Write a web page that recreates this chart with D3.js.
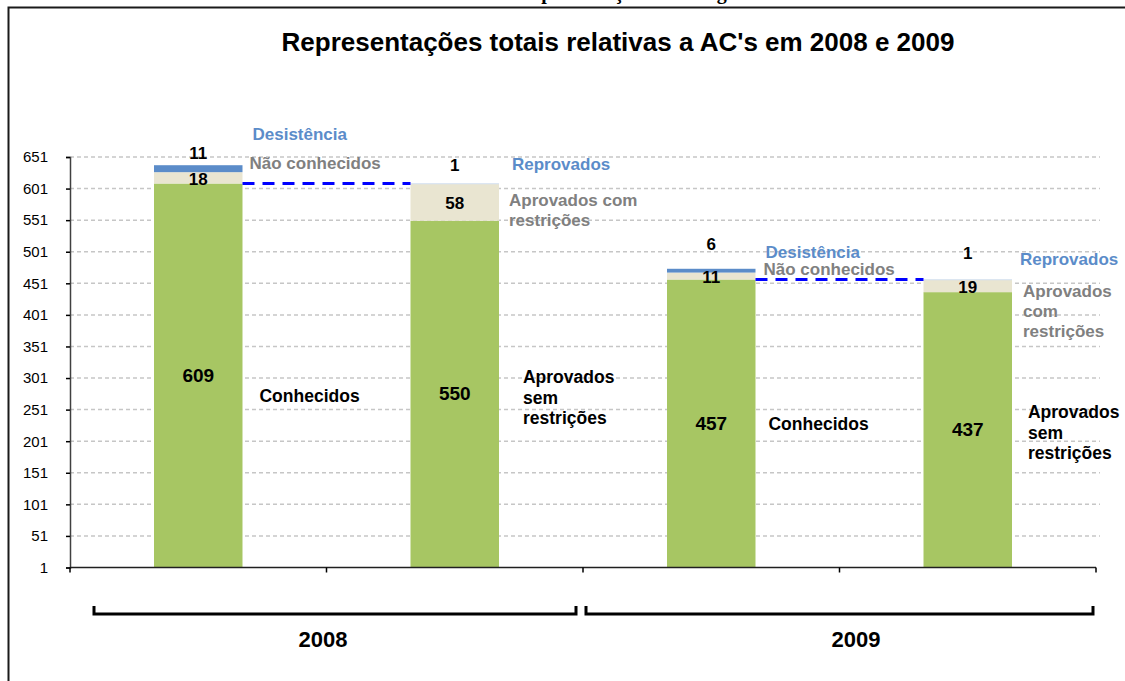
<!DOCTYPE html>
<html>
<head>
<meta charset="utf-8">
<script src="https://cdn.jsdelivr.net/npm/d3@7"></script>
<style>
  body { margin: 0; background: #fff; }
  svg { display: block; font-family: "Liberation Sans", Arial, sans-serif; }
</style>
</head>
<body>
<div id="chart"></div>
<script>
// chart values
const years = ["2008", "2009"];
const bars = ["2008 AC", "2008 Ap", "2009 AC", "2009 Ap"];
const baseValues = [609, 550, 457, 437];
const midValues = [18, 58, 11, 19];
const topValues = [11, 1, 6, 1];
const baseNames = [["Conhecidos"], ["Aprovados", "sem", "restrições"], ["Conhecidos"], ["Aprovados", "sem", "restrições"]];
const midNames = [["Não conhecidos"], ["Aprovados com", "restrições"], ["Não conhecidos"], ["Aprovados", "com", "restrições"]];
const topNames = ["Desistência", "Reprovados", "Desistência", "Reprovados"];
const yTicks = [1, 51, 101, 151, 201, 251, 301, 351, 401, 451, 501, 551, 601, 651];
const titleText = "Representações totais relativas a AC's em 2008 e 2009";

// label placement, per bar (pixels)
const layout = [
  { topDy: -6, topNameDx: 10, topNameY: 140, midNameDx: 7, midNameY: 169, baseNameDx: 17, baseNameY: 402 },
  { topDy: -13, topNameDx: 13, topNameY: 170, midNameDx: 10, midNameY: 206, baseNameDx: 24, baseNameY: 383 },
  { topDy: -19, topNameDx: 10, topNameY: 258, midNameDx: 8, midNameY: 275, baseNameDx: 13, baseNameY: 430 },
  { topDy: -21, topNameDx: 8, topNameY: 265, midNameDx: 11, midNameY: 297, baseNameDx: 16, baseNameY: 418 }
];

const width = 1125, height = 681;
const plotLeft = 70, plotRight = 1096, plotTop = 157, plotBottom = 567.5;

const svg = d3.select("#chart").append("svg")
  .attr("width", width)
  .attr("height", height);

// cut-off heading above the frame (only its lower edge shows)
svg.append("text")
  .attr("x", 518)
  .attr("y", -1)
  .style("font-family", "'Liberation Serif', 'Times New Roman', serif")
  .style("font-weight", "bold")
  .style("font-size", "20px")
  .text("Representação da área geral");

// frame
svg.append("path")
  .attr("d", `M8.5,${height} V7.5 H${width}`)
  .attr("fill", "none")
  .attr("stroke", "#1a1a1a")
  .attr("stroke-width", 2);

svg.append("text")
  .attr("x", 618)
  .attr("y", 51)
  .attr("text-anchor", "middle")
  .style("font-weight", "bold")
  .style("font-size", "26px")
  .text(titleText);

const y = d3.scaleLinear().domain([1, 651]).range([plotBottom, plotTop]).clamp(true);
const x = d3.scaleBand().domain(bars).range([plotLeft, plotRight]).padding(0);
const barW = x.bandwidth() * 0.345;
const cx = d => x(d) + x.bandwidth() / 2;

// grid
svg.append("g")
  .selectAll("line")
  .data(yTicks.filter(t => t > 1))
  .join("line")
  .attr("x1", plotLeft)
  .attr("x2", 1100)
  .attr("y1", d => y(d))
  .attr("y2", d => y(d))
  .attr("stroke", "#c6c6c6")
  .attr("stroke-width", 1.5)
  .attr("stroke-dasharray", "4,3");

// stacked segments
const colors = ["#a7c663", "#e9e5d1", null];
const topColors = ["#5b8cc9", "#b7cbe3", "#5b8cc9", "#b7cbe3"];
const segs = [];
bars.forEach((b, i) => {
  const v = [baseValues[i], midValues[i], topValues[i]];
  let acc = 0;
  v.forEach((val, k) => {
    segs.push({ bar: b, i, k, y0: acc, y1: acc + val });
    acc += val;
  });
});

svg.append("g")
  .selectAll("rect")
  .data(segs)
  .join("rect")
  .attr("x", d => cx(d.bar) - barW / 2)
  .attr("width", barW)
  .attr("y", d => y(d.y1))
  .attr("height", d => y(d.y0) - y(d.y1))
  .attr("fill", d => d.k === 2 ? topColors[d.i] : colors[d.k]);

// connectors between the known total and the next bar total
[0, 2].forEach(i => {
  const v = baseValues[i];
  svg.append("line")
    .attr("x1", cx(bars[i]) + barW / 2)
    .attr("x2", cx(bars[i + 1]) - barW / 2)
    .attr("y1", y(v))
    .attr("y2", y(v))
    .attr("stroke", "#0000ff")
    .attr("stroke-width", 3)
    .attr("stroke-dasharray", "12,8");
});

// y axis
const yAxis = svg.append("g")
  .attr("transform", `translate(${plotLeft},0)`)
  .call(d3.axisLeft(y).tickValues(yTicks).tickSize(4).tickPadding(18).tickFormat(d3.format("d")));
yAxis.select(".domain").attr("stroke", "#404040").attr("stroke-width", 1.5);
yAxis.selectAll(".tick line").attr("stroke", "#000").attr("stroke-width", 1.5);
yAxis.selectAll(".tick text")
  .style("font-size", "15px")
  .style("font-family", "'Liberation Sans', Arial, sans-serif")
  .attr("fill", "#000");

// x axis
svg.append("line")
  .attr("x1", plotLeft).attr("x2", plotRight)
  .attr("y1", plotBottom).attr("y2", plotBottom)
  .attr("stroke", "#202020").attr("stroke-width", 1.5);
svg.append("g")
  .selectAll("line")
  .data(d3.range(bars.length + 1))
  .join("line")
  .attr("x1", i => plotLeft + i * x.step())
  .attr("x2", i => plotLeft + i * x.step())
  .attr("y1", plotBottom)
  .attr("y2", plotBottom + 5)
  .attr("stroke", "#000")
  .attr("stroke-width", 1.5);

// year brackets
const brackets = [
  { x0: 94, x1: 576, labelX: 323 },
  { x0: 586, x1: 1093, labelX: 856 }
];
years.forEach((yr, j) => {
  const b = brackets[j];
  svg.append("path")
    .attr("d", `M${b.x0},606 V614 H${b.x1} V606`)
    .attr("fill", "none")
    .attr("stroke", "#000")
    .attr("stroke-width", 3);
  svg.append("text")
    .attr("x", b.labelX)
    .attr("y", 647)
    .attr("text-anchor", "middle")
    .style("font-weight", "bold")
    .style("font-size", "22px")
    .text(yr);
});

// labels
const lbl = svg.append("g").style("font-weight", "bold");
bars.forEach((b, i) => {
  const L = layout[i];
  const c = cx(b);
  const right = c + barW / 2;
  const base = baseValues[i], mid = midValues[i], top = topValues[i];

  lbl.append("text").attr("x", c).attr("y", (y(0) + y(base)) / 2 + 6)
    .attr("text-anchor", "middle").style("font-size", "19px").text(base);
  lbl.append("text").attr("x", c).attr("y", (y(base) + y(base + mid)) / 2 + 7)
    .attr("text-anchor", "middle").style("font-size", "17px").text(mid);
  lbl.append("text").attr("x", c).attr("y", y(base + mid + top) + L.topDy)
    .attr("text-anchor", "middle").style("font-size", "17px").text(top);

  lbl.append("text").attr("x", right + L.topNameDx).attr("y", L.topNameY)
    .attr("fill", "#5b8cc9").style("font-size", "17px").text(topNames[i]);

  midNames[i].forEach((t, k) => {
    lbl.append("text").attr("x", right + L.midNameDx).attr("y", L.midNameY + k * 20)
      .attr("fill", "#808080").style("font-size", "17px").text(t);
  });
  baseNames[i].forEach((t, k) => {
    lbl.append("text").attr("x", right + L.baseNameDx).attr("y", L.baseNameY + k * 20.5)
      .attr("fill", "#000").style("font-size", "17.5px").text(t);
  });
});
</script>
</body>
</html>
